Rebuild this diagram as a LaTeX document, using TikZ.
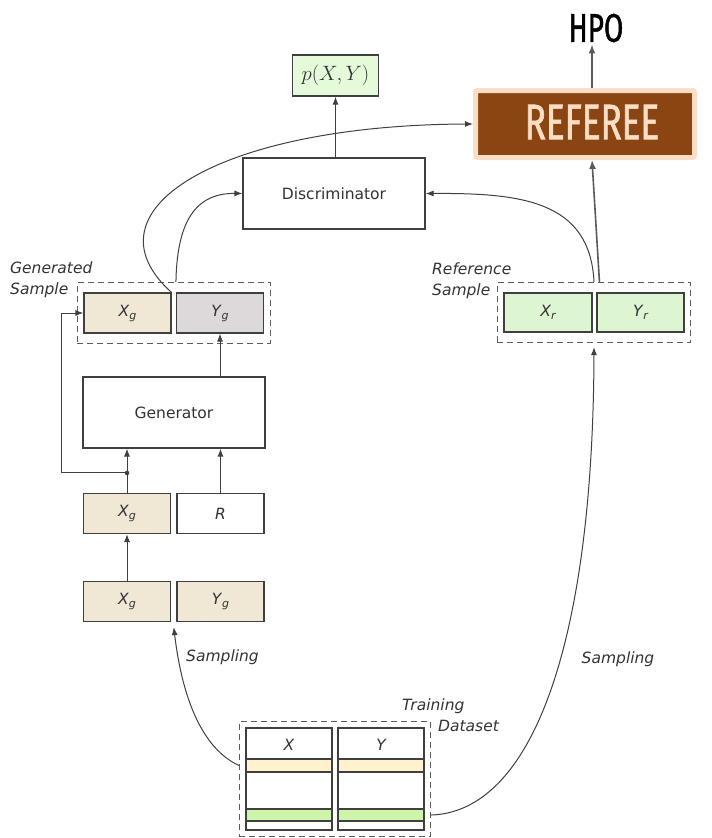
\documentclass[tikz,border=0pt]{standalone}
\usepackage{fontspec}
\setmainfont{DejaVu Sans}
\newfontfamily\slidefont[FakeStretch=0.7, FakeBold=1.2]{Fira Sans}
\usetikzlibrary{positioning,arrows.meta,fit,calc}
\definecolor{colLine}{RGB}{64,64,64}
\definecolor{colText}{RGB}{51,51,51}
\definecolor{colSampleX}{RGB}{240,232,213}
\definecolor{colSampleY}{RGB}{221,216,218}
\definecolor{colReal}{RGB}{221,245,208}
\definecolor{colProb}{RGB}{228,250,216}
\definecolor{colStripe}{RGB}{255,242,204}
\definecolor{colRow}{RGB}{204,245,170}
\definecolor{colReferee}{RGB}{139,69,19}
\definecolor{colRefereeEdge}{RGB}{252,222,196}
\definecolor{colHpo}{RGB}{90,90,90}
\newcommand\diagfont{\fontsize{15.5}{21}\selectfont}
\newcommand\cellvar[2]{\textit{#1}\raisebox{-3pt}{\fontsize{11}{11}\selectfont\itshape #2}}

\tikzset{
    cell/.style={draw=colLine, line width=1.1pt, minimum width=87pt, minimum height=40pt,
        inner sep=0pt, text=colText, font=\diagfont},
    block/.style={cell, minimum width=182pt, minimum height=71pt, fill=white},
    stripe/.style={draw=colLine, line width=1.1pt, minimum width=86pt, inner sep=0pt},
    group/.style={draw=colLine!85, line width=1.1pt, dash pattern=on 6pt off 4pt,
        inner xsep=6pt, inner ysep=10pt},
    arr/.style={draw=colLine, line width=1pt, -{Latex[length=8pt,width=6pt]}},
    hpoarr/.style={draw=colHpo, line width=1.6pt, -{Latex[length=9pt,width=7pt]}},
    tag/.style={text=colText, font=\diagfont\itshape, align=left, inner sep=0pt},
}

\begin{document}
\begin{tikzpicture}[x=1pt, y=-1pt]
    \useasboundingbox (0,0) rectangle (712,838);

    % referee and hpo
    \node[draw=colRefereeEdge, line width=5pt, fill=colReferee, rounded corners=2pt,
        minimum width=219pt, minimum height=67pt] (refbox) at (585,124) {};
    \node[text=colRefereeEdge, inner sep=0pt, font=\slidefont\fontsize{50}{50}\selectfont]
        (referee) at (592,122) {REFEREE};
    \node[inner sep=2pt, font=\slidefont\fontsize{40}{40}\selectfont] (hpo) at (596,28) {HPO};
    \draw[hpoarr] (refbox.north -| referee) -- (hpo.south -| referee);

    % discriminator
    \node[block] (disc) at (334,193.5) {Discriminator};
    \node[cell, fill=colProb, minimum width=86pt, minimum height=41pt,
        font=\fontsize{22}{24}\selectfont] (prob) at (335.5,75.5) {$p(X,Y)$};
    \draw[arr] (disc.north -| prob) -- (prob.south);

    % generated sample
    \node[cell, fill=colSampleX] (xgt) at (127.5,313) {\cellvar{X}{g}};
    \node[cell, fill=colSampleY] (ygt) at (220,313) {\cellvar{Y}{g}};
    \node[group, fit=(xgt)(ygt)] (gensample) {};
    \node[tag, anchor=north west] (gentag) at (10,262) {Generated\\Sample};

    % generator and its inputs
    \node[block] (generator) at (174,412.5) {Generator};
    \node[cell, fill=colSampleX] (xgm) at (127,513.5) {\cellvar{X}{g}};
    \node[cell, fill=white] (rnoise) at (220.5,513.5) {\textit{R}};
    \node[cell, fill=colSampleX] (xgb) at (127,601.5) {\cellvar{X}{g}};
    \node[cell, fill=colSampleX] (ygb) at (220.5,601.5) {\cellvar{Y}{g}};
    \coordinate (split) at ($(xgm.north)+(0,-20)$);

    \draw[arr] (xgm.north) -- (xgm.north |- generator.south);
    \draw[arr] (rnoise.north) -- (rnoise.north |- generator.south);
    \draw[arr] (generator.north -| ygt) -- (ygt.south);
    \draw[arr] (xgb.north) -- (xgm.south);
    \fill[colLine] (split) circle (2.3pt);
    \draw[arr] (split) -- ++(-66,0) |- (xgt.west);

    % reference sample
    \node[cell, fill=colReal, minimum width=88pt, minimum height=39pt] (xr) at (548,312.5) {\cellvar{X}{r}};
    \node[cell, fill=colReal, minimum height=39pt] (yr) at (640.5,312.5) {\cellvar{Y}{r}};
    \node[group, fit=(xr)(yr)] (refsample) {};
    \node[tag, anchor=north west] (reftag) at (432,263) {Reference\\Sample};

    % training dataset
    \node[cell, fill=white, minimum width=86pt, minimum height=102pt] (xcol) at (289,779) {};
    \node[cell, fill=white, minimum width=86pt, minimum height=102pt] (ycol) at (381,779) {};
    \node[stripe, fill=colStripe, minimum height=13pt] (xold) at (289,765.5) {};
    \node[stripe, fill=colStripe, minimum height=13pt] (yold) at (381,765.5) {};
    \node[stripe, fill=colRow, minimum height=12pt] (xrow) at (289,815) {};
    \node[stripe, fill=colRow, minimum height=12pt] (yrow) at (381,815) {};
    \node[text=colText, font=\diagfont\itshape] (xhead) at (289,745) {X};
    \node[text=colText, font=\diagfont\itshape] (yhead) at (381,745) {Y};
    \node[group, inner xsep=6pt, inner ysep=6pt, fit=(xcol)(ycol)] (traindata) {};
    \node[tag, anchor=north west] (traintag) at (402,699) {Training\\\hspace*{36pt}Dataset};

    % sampling
    \coordinate (pick) at ($(xgb.south east)!0.5!(ygb.south west)+(0,5)$);
    \draw[arr] (traindata.west |- xold) .. controls (195,745) and (180,680) .. (pick);
    \node[tag] (samplel) at (222.5,657) {Sampling};
    \draw[arr] (traindata.east |- yrow) .. controls (530,812) and (593,650) .. ($(refsample.south)+(0,4)$);
    \node[tag] (sampler) at (618,659) {Sampling};

    % into discriminator and referee
    \draw[arr] (gensample.north -| ygt.west) .. controls (177,215) and (200,193) .. (disc.west);
    \draw[arr] (refsample.north) .. controls (590,200) and (520,193) .. (disc.east);
    \draw[arr] (xgt.north east) .. controls (80,210) and (220,125) .. (refbox.west);
    \draw[hpoarr] ($(refsample.north -| yr.west)+(3,0)$) -- (refbox.south -| referee);
\end{tikzpicture}
\end{document}
